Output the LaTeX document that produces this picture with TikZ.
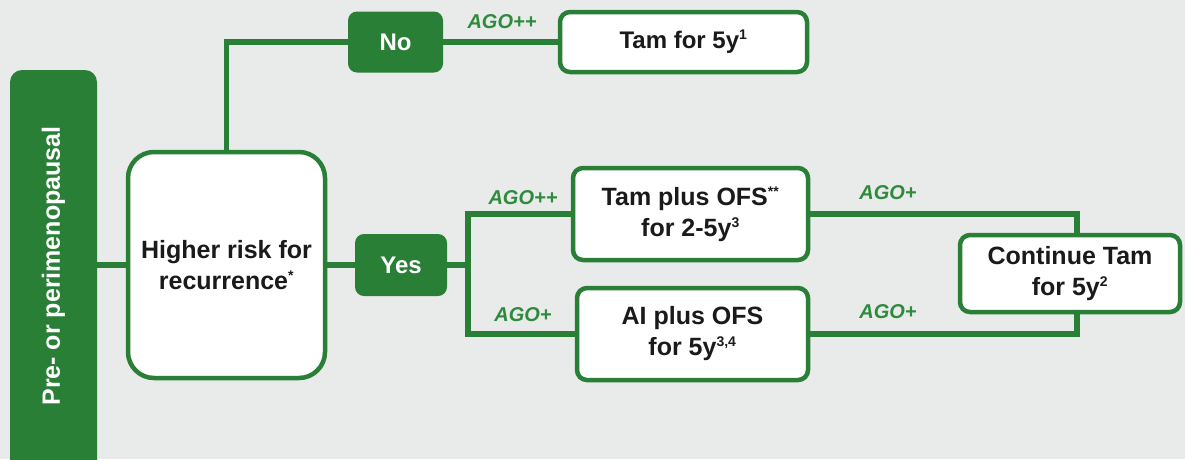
\documentclass[tikz,border=0pt]{standalone}
\usepackage{fontspec}
\setmainfont{Liberation Sans}
\definecolor{agogreen}{HTML}{2A7F37}
\definecolor{labgreen}{HTML}{2E8A3C}
\definecolor{bgcol}{HTML}{E9EBEA}
\definecolor{txt}{HTML}{1A1A1A}
\newcommand{\supr}[1]{\textsuperscript{\fontsize{14}{14}\selectfont #1}}
\begin{document}
\begin{tikzpicture}[x=1pt,y=-1pt,
  boxtxt/.style={font=\fontsize{25}{31}\selectfont\bfseries, text=txt, align=center},
  whitebox/.style={boxtxt, draw=agogreen, line width=4.5pt, fill=white, rounded corners=10pt, inner sep=0pt},
  greenbox/.style={font=\fontsize{24}{29}\selectfont\bfseries, text=white, fill=agogreen, rounded corners=9pt, inner sep=0pt},
  conn/.style={draw=agogreen, line width=5.5pt},
  agolab/.style={font=\fontsize{20}{24}\selectfont\bfseries\itshape, text=labgreen, inner sep=0pt}]
\clip (0,0) rectangle (1185,459);
\fill[bgcol] (0,0) rectangle (1185,459);
% nodes
\node[greenbox, rounded corners=12pt, minimum width=87pt, minimum height=410pt] (bar) at (53.5,275) {};
\node[rotate=90, font=\fontsize{25}{30}\selectfont\bfseries, text=white] (bartext) at (53.5,266) {Pre- or perimenopausal};
\node[whitebox, rounded corners=26pt, minimum width=197pt, minimum height=226pt] (risk) at (226.5,265) {Higher risk for\\recurrence\supr{*}};
\node[greenbox, minimum width=95pt, minimum height=61pt] (no) at (395.5,42) {No};
\node[whitebox, font=\fontsize{24}{29}\selectfont\bfseries, minimum width=247pt, minimum height=60pt] (tam5) at (683.5,42) {Tam for 5y\supr{1}};
\node[greenbox, minimum width=92pt, minimum height=62pt] (yes) at (401,265) {Yes};
\node[whitebox, minimum width=235pt, minimum height=92pt] (tamofs) at (690.5,214) {Tam plus OFS\supr{**}\\for 2-5y\supr{3}};
\node[whitebox, minimum width=231pt, minimum height=92pt] (aiofs) at (692.5,334) {AI plus OFS\\for 5y\supr{3,4}};
\node[whitebox, minimum width=220pt, minimum height=77pt] (cont) at (1070,273.5) {Continue Tam\\for 5y\supr{2}};
% connectors
\coordinate (j) at (468,265);
\draw[conn] (risk.west -| bar.east) -- (risk.west);
\draw[conn] (risk.north) |- (no.west);
\draw[conn] (no.east) -- (tam5.west);
\draw[conn] (risk.east) -- (yes.west);
\draw[conn] (yes.east) -- (j);
\draw[conn] (j) |- (tamofs.west);
\draw[conn] (j) |- (aiofs.west);
\draw[conn] (tamofs.east) -| ([xshift=7pt]cont.north);
\draw[conn] (aiofs.east) -| ([xshift=7pt]cont.south);
% labels
\node[agolab] (l1) at (502,22) {AGO++};
\node[agolab] (l2) at (523,198) {AGO++};
\node[agolab] (l3) at (523,315) {AGO+};
\node[agolab] (l4) at (888,193) {AGO+};
\node[agolab] (l5) at (888,312) {AGO+};
\end{tikzpicture}
\end{document}
